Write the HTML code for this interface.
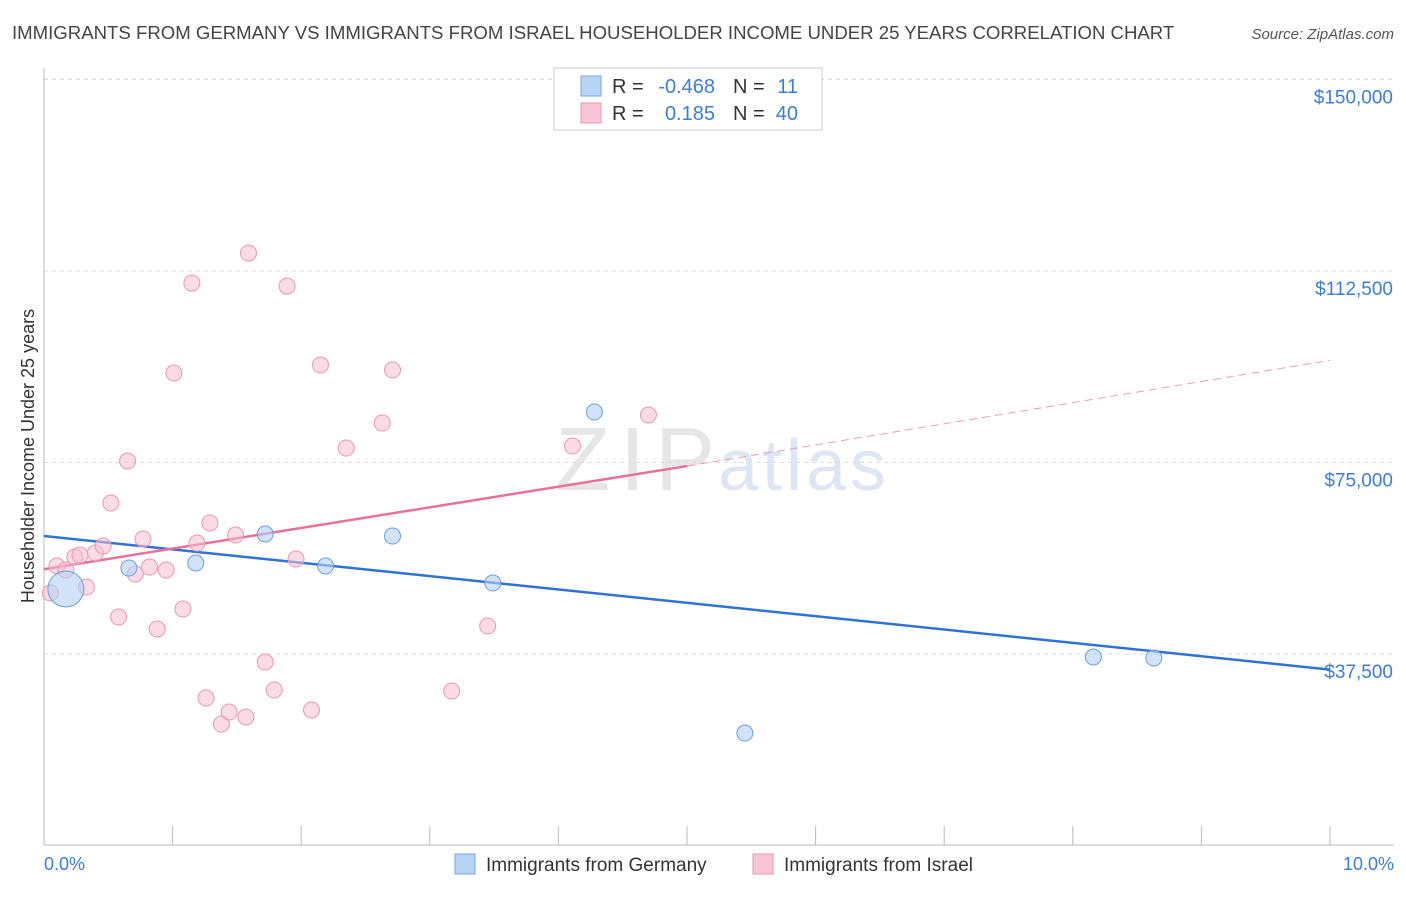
<!DOCTYPE html>
<html><head><meta charset="utf-8"><style>
body{margin:0;background:#fff;font-family:"Liberation Sans",sans-serif}
svg text{font-family:"Liberation Sans",sans-serif}
</style></head><body>
<svg id="chart" width="1406" height="892" xmlns="http://www.w3.org/2000/svg">
<text x="12" y="39" font-size="18.6" fill="#444">IMMIGRANTS FROM GERMANY VS IMMIGRANTS FROM ISRAEL HOUSEHOLDER INCOME UNDER 25 YEARS CORRELATION CHART</text>
<text x="1394" y="39" font-size="15" fill="#555" text-anchor="end" font-style="italic">Source: ZipAtlas.com</text>
<text x="555" y="490" font-size="90" fill="#e6e6e6" textLength="160" font-family="Liberation Serif">ZIP</text>
<text x="718" y="490" font-size="72" fill="#dde6f2" textLength="168">atlas</text>
<g id="grid"></g><g id="axes"></g><g id="lines"></g><g id="pts"></g>
<text transform="translate(34,456) rotate(-90)" font-size="18" fill="#333" text-anchor="middle">Householder Income Under 25 years</text>
<text x="44" y="870" font-size="18" fill="#3b7dd8">0.0%</text>
<text x="1394" y="870" font-size="18" fill="#3b7dd8" text-anchor="end">10.0%</text>
<g font-size="20">
<rect x="554" y="68" width="268" height="62" fill="#fff" stroke="#ccc"/>
<rect x="581" y="76" width="20" height="20" fill="#b9d3f5" stroke="#7aa6e0"/>
<rect x="581" y="103" width="20" height="20" fill="#f8c6d6" stroke="#e898b2"/>
<text x="612" y="93" fill="#333">R =</text>
<text x="715" y="93" fill="#3b7dd8" text-anchor="end">-0.468</text>
<text x="733" y="93" fill="#333">N =</text>
<text x="798" y="93" fill="#3b7dd8" text-anchor="end">11</text>
<text x="612" y="120" fill="#333">R =</text>
<text x="715" y="120" fill="#3b7dd8" text-anchor="end">0.185</text>
<text x="733" y="120" fill="#333">N =</text>
<text x="798" y="120" fill="#3b7dd8" text-anchor="end">40</text>
</g>
<g>
<rect x="455" y="854" width="20" height="20" fill="#b9d3f5" stroke="#7aa6e0"/>
<text x="486" y="871" font-size="19" fill="#333">Immigrants from Germany</text>
<rect x="753" y="854" width="20" height="20" fill="#f8c6d6" stroke="#e898b2"/>
<text x="784" y="871" font-size="19" fill="#333">Immigrants from Israel</text>
</g>
</svg>
<script>
const yTicks=[37500,75000,112500,150000];
const yTickLabels=["$37,500","$75,000","$112,500","$150,000"];
const germanyX=[0.17,0.66,1.18,1.72,2.19,2.71,3.49,4.28,5.45,8.16,8.63];
const germanyY=[50223,54335,55314,60992,54726,60600,51398,84879,22027,36908,36713];
const germanyR=[18,8,8,8,8,8,8,8,8,8,8];
const israelX=[0.05,0.10,0.17,0.24,0.33,0.40,0.46,0.52,0.58,0.65,0.77,0.82,0.88,0.95,1.01,1.08,1.15,1.19,1.26,1.29,1.38,1.44,1.49,1.57,1.59,1.72,1.79,1.89,1.96,2.08,2.15,2.35,2.63,2.71,3.17,3.45,4.11,4.70,0.28,0.71];
const israelY=[49440,54726,53943,56488,50614,57271,58641,67061,44741,75286,60013,54530,42390,53943,92521,46307,110136,59230,28881,63146,23790,26140,60796,25161,116010,35930,30447,109548,56097,26531,94087,77836,82731,93109,30251,42978,78228,84298,56880,53160];
const germanyTrend=[[0,60600],[10,34450]];
const israelTrend=[[0,54100],[5,74300],[10,95000]];
const NS="http://www.w3.org/2000/svg";
const X=v=>44+v*128.6, Y=v=>845.5-v/37500*191.5;
function mk(tag,a,parent){const e=document.createElementNS(NS,tag);for(const k in a)e.setAttribute(k,a[k]);document.getElementById(parent).appendChild(e);return e;}
yTicks.forEach((t,i)=>{
 const l=mk('line',{x1:44,x2:1394,y1:Y(t),y2:Y(t),stroke:'#ddd','stroke-dasharray':'4,4'},'grid');
 
 
 const tx=mk('text',{x:1393,y:Y(t)+24,'font-size':19,fill:'#3b7dd8','text-anchor':'end'},'grid');
 tx.textContent=yTickLabels[i];
 
 
});
const tl=mk('line',{x1:44,x2:1394,y1:79,y2:79,stroke:'#ddd','stroke-dasharray':'4,4'},'grid');


const ax=mk('line',{x1:44,x2:1394,y1:845,y2:845,stroke:'#bbb'},'axes');


const ay=mk('line',{x1:44,x2:44,y1:68,y2:845,stroke:'#bbb'},'axes');


for(let i=0;i<=10;i++){const t=mk('line',{x1:X(i),x2:X(i),y1:826,y2:845,stroke:'#bbb'},'axes');
 
 }
const bl=mk('line',{x1:X(germanyTrend[0][0]),y1:Y(germanyTrend[0][1]),x2:X(germanyTrend[1][0]),y2:Y(germanyTrend[1][1]),stroke:'#2f72d6','stroke-width':2.5},'lines');


const pl=mk('line',{x1:X(israelTrend[0][0]),y1:Y(israelTrend[0][1]),x2:X(israelTrend[1][0]),y2:Y(israelTrend[1][1]),stroke:'#e8709a','stroke-width':2.5},'lines');


const pd=mk('line',{x1:X(israelTrend[1][0]),y1:Y(israelTrend[1][1]),x2:X(israelTrend[2][0]),y2:Y(israelTrend[2][1]),stroke:'#e8a0b8','stroke-width':1,'stroke-dasharray':'8,5'},'lines');


israelX.forEach((x,i)=>{const c=mk('circle',{cx:X(x),cy:Y(israelY[i]),r:8,fill:'rgba(248,190,210,0.55)',stroke:'#e898b2','stroke-width':1},'pts');
 
 });
germanyX.forEach((x,i)=>{const c=mk('circle',{cx:X(x),cy:Y(germanyY[i]),r:germanyR[i],fill:'rgba(180,208,245,0.6)',stroke:'#6b9de0','stroke-width':1},'pts');
 
 });
</script>
</body></html>
